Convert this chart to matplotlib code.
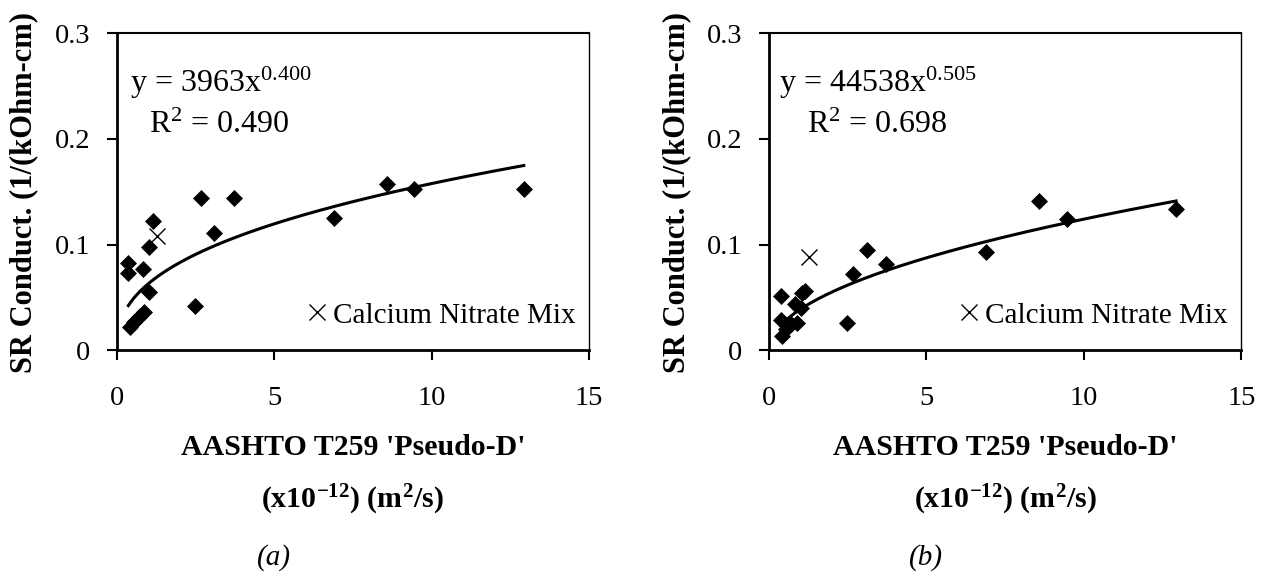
import numpy as np
import matplotlib
matplotlib.use("Agg")
import matplotlib.pyplot as plt
from matplotlib.lines import Line2D

plt.rcParams["font.family"] = ["Liberation Serif", "DejaVu Serif"]
plt.rcParams["mathtext.fontset"] = "custom"
plt.rcParams["mathtext.rm"] = "Liberation Serif"
plt.rcParams["mathtext.it"] = "Liberation Serif:italic"
plt.rcParams["mathtext.bf"] = "Liberation Serif:bold"

# AASHTO T259 pseudo-diffusion coefficients (x10^-12 m^2/s)
pseudo_d = [0.37, 0.37, 0.42, 0.55, 0.70, 0.83, 0.88, 1.02, 1.04, 1.14,
            2.48, 2.67, 3.10, 3.73, 6.90, 8.57, 9.45, 12.93]
# surface resistivity conductance, panel (a) and panel (b)
sr_a = [0.083, 0.073, 0.022, 0.027, 0.031, 0.077, 0.036, 0.055, 0.098, 0.122,
        0.042, 0.144, 0.111, 0.144, 0.125, 0.157, 0.153, 0.153]
sr_b = [0.051, 0.029, 0.013, 0.020, 0.025, 0.044, 0.026, 0.040, 0.054, 0.056,
        0.026, 0.072, 0.095, 0.082, 0.093, 0.141, 0.124, 0.134]

# calcium nitrate mix
cn_x = 1.27
cn_a = 0.108
cn_b = 0.088

# power-law fits y = c * D^k (D in m^2/s)
fit_coef = [3963, 44538]
fit_exp = [0.400, 0.505]
fit_r2 = [0.490, 0.698]

x_ticks = [0, 5, 10, 15]
x_ticklabels = ["0", "5", "10", "15"]
y_ticks = [0, 0.1, 0.2, 0.3]
y_ticklabels = ["0", "0.1", "0.2", "0.3"]
panel_tags = ["(a)", "(b)"]

fig = plt.figure(figsize=(12.71, 5.75), dpi=100)
positions = [[0.0918, 0.391, 0.3716, 0.551], [0.605, 0.391, 0.3716, 0.551]]
series = [sr_a, sr_b]
cn_vals = [cn_a, cn_b]
eq_x = [0.028, 0.022]
r2_x = [0.068, 0.081]

for i in range(2):
    ax = fig.add_axes(positions[i])
    ax.set_xlim(0, 15)
    ax.set_ylim(0, 0.3)

    # fitted trend line
    xs = np.linspace(min(pseudo_d), max(pseudo_d), 300)
    ys = fit_coef[i] * (xs * 1e-12) ** fit_exp[i]
    ax.plot(xs, ys, color="black", lw=2.2, zorder=2)

    ax.plot(pseudo_d, series[i], linestyle="none", marker="D", ms=8.2,
            mfc="black", mec="black", mew=0.5, zorder=3)
    ax.plot([cn_x], [cn_vals[i]], linestyle="none", marker="x", ms=11,
            mec="black", mew=1.0, zorder=3)

    ax.set_xticks(x_ticks)
    ax.set_xticklabels(x_ticklabels)
    ax.set_yticks(y_ticks)
    ax.set_yticklabels(y_ticklabels)
    ax.tick_params(axis="both", direction="out", length=7, width=1.5,
                   labelsize=20.5, color="black")
    ax.tick_params(axis="y", pad=12)
    ax.tick_params(axis="x", pad=19)
    for side in ["left", "bottom"]:
        ax.spines[side].set_linewidth(2.0)
    ax.spines["top"].set_linewidth(1.5)
    ax.spines["right"].set_linewidth(1.0)

    ax.text(-0.196, 0.497, "SR Conduct. (1/(kOhm-cm)", transform=ax.transAxes,
            rotation=90, ha="center", va="center", fontsize=22,
            fontweight="bold")

    ax.text(0.5, -0.331, "AASHTO T259 'Pseudo-D'", transform=ax.transAxes,
            ha="center", va="baseline", fontsize=21.5, fontweight="bold")
    ax.text(0.5, -0.498, r"(x10$^{\mathbf{-12}}$) (m$^{\mathbf{2}}$/s)",
            transform=ax.transAxes, ha="center", va="baseline",
            fontsize=21.5, fontweight="bold")
    ax.text(0.333, -0.678, panel_tags[i], transform=ax.transAxes,
            ha="center", va="baseline", fontsize=21, style="italic")

    eq = "y = %dx$^{%.3f}$" % (fit_coef[i], fit_exp[i])
    ax.text(eq_x[i], 0.814, eq, transform=ax.transAxes, ha="left",
            va="baseline", fontsize=23)
    ax.text(r2_x[i], 0.685, "R$^2$ = %.3f" % fit_r2[i],
            transform=ax.transAxes, ha="left", va="baseline", fontsize=23)

    handle = Line2D([], [], linestyle="none", marker="x", ms=11, mec="black",
                    mew=1.0)
    ax.legend([handle], ["Calcium Nitrate Mix"], loc="center right",
              bbox_to_anchor=(0.972, 0.11), frameon=False, fontsize=21,
              handlelength=0.6, handletextpad=0.25, borderpad=0,
              borderaxespad=0)

fig.savefig("out.png", dpi=100)
